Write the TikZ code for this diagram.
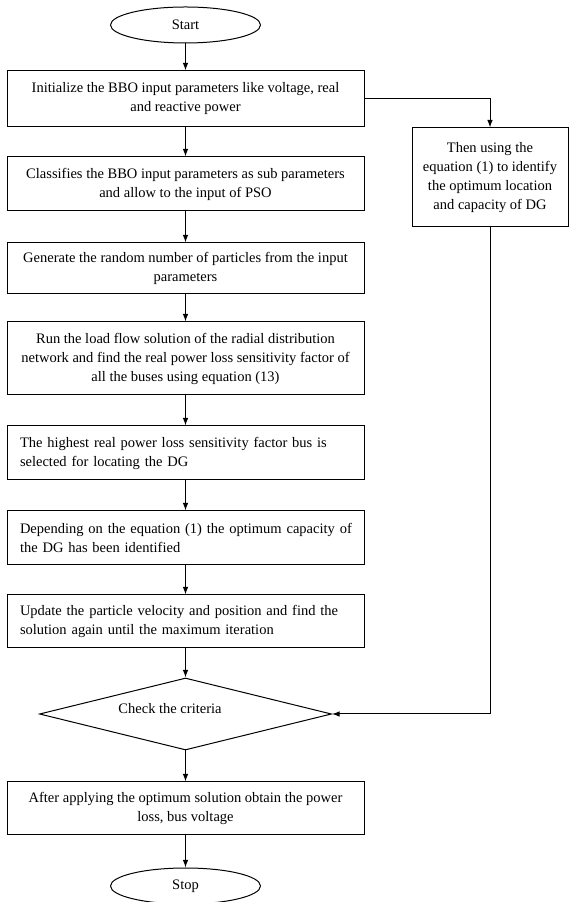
\documentclass[tikz,border=0pt]{standalone}
\usepackage{fontspec}
\setmainfont{Liberation Serif}
\usetikzlibrary{arrows.meta,shapes.geometric}
\tikzset{
  x=1pt,y=1pt,
  txt/.style={font=\fontsize{14.5}{19}\selectfont},
  cbox/.style={txt,draw,line width=1pt,rectangle,minimum width=357pt,align=center,inner sep=0pt},
  lbox/.style={txt,draw,line width=1pt,rectangle,text width=331pt,inner xsep=13pt,inner ysep=0pt,align=left},
  term/.style={txt,draw,line width=1pt,ellipse,minimum width=150pt,minimum height=36pt,inner sep=0pt},
  arr/.style={line width=1pt,-{Latex[length=7.5pt,width=5.5pt]}}
}
\begin{document}
\begin{tikzpicture}
\useasboundingbox (0,0) rectangle (569,902);
\node[term] (start) at (185.5,877) {Start};
\node[cbox,minimum height=56pt] (b1) at (185.5,803) {Initialize the BBO input parameters like voltage, real\\and reactive power};
\node[cbox,minimum height=54pt] (b2) at (185.5,718) {Classifies the BBO input parameters as sub parameters\\and allow to the input of PSO};
\node[cbox,minimum height=51pt] (b3) at (185.5,633.5) {Generate the random number of particles from the input\\parameters};
\node[cbox,minimum height=73pt] (b4) at (185.5,543.5) {Run the load flow solution of the radial distribution\\network and find the real power loss sensitivity factor of\\all the buses using equation (13)};
\node[lbox,minimum height=54pt] (b5) at (185.5,449) {\mbox{The highest real power loss sensitivity factor bus is}\\\mbox{selected for locating the DG}};
\node[lbox,minimum height=54pt] (b6) at (185.5,364) {\mbox{Depending on the equation (1) the optimum capacity of}\\\mbox{the DG has been identified}};
\node[lbox,minimum height=53pt] (b7) at (185.5,280.5) {\mbox{Update the particle velocity and position and find the}\\\mbox{solution again until the maximum iteration}};
\node[draw,line width=1pt,diamond,minimum width=292pt,minimum height=72pt,inner sep=0pt] (dia) at (185.5,188) {};
\node[txt] (dtext) at (170,193) {Check the criteria};
\node[cbox,minimum height=53pt] (b8) at (185.5,93.5) {After applying the optimum solution obtain the power\\loss, bus voltage};
\node[term] (stop) at (185.5,16) {Stop};
\node[txt,draw,line width=1pt,rectangle,minimum width=156pt,minimum height=99pt,align=center,inner sep=0pt] (rb) at (490,724.5) {Then using the\\equation (1) to identify\\the optimum location\\and capacity of DG};
\draw[arr] (start) -- (b1);
\draw[arr] (b1) -- (b2);
\draw[arr] (b2) -- (b3);
\draw[arr] (b3) -- (b4);
\draw[arr] (b4) -- (b5);
\draw[arr] (b5) -- (b6);
\draw[arr] (b6) -- (b7);
\draw[arr] (b7) -- (dia);
\draw[arr] (dia) -- (b8);
\draw[arr] (b8) -- (stop);
\draw[arr] (b1.east) -| (rb.north);
\draw[arr] (rb.south) |- (dia.east);
\end{tikzpicture}
\end{document}
